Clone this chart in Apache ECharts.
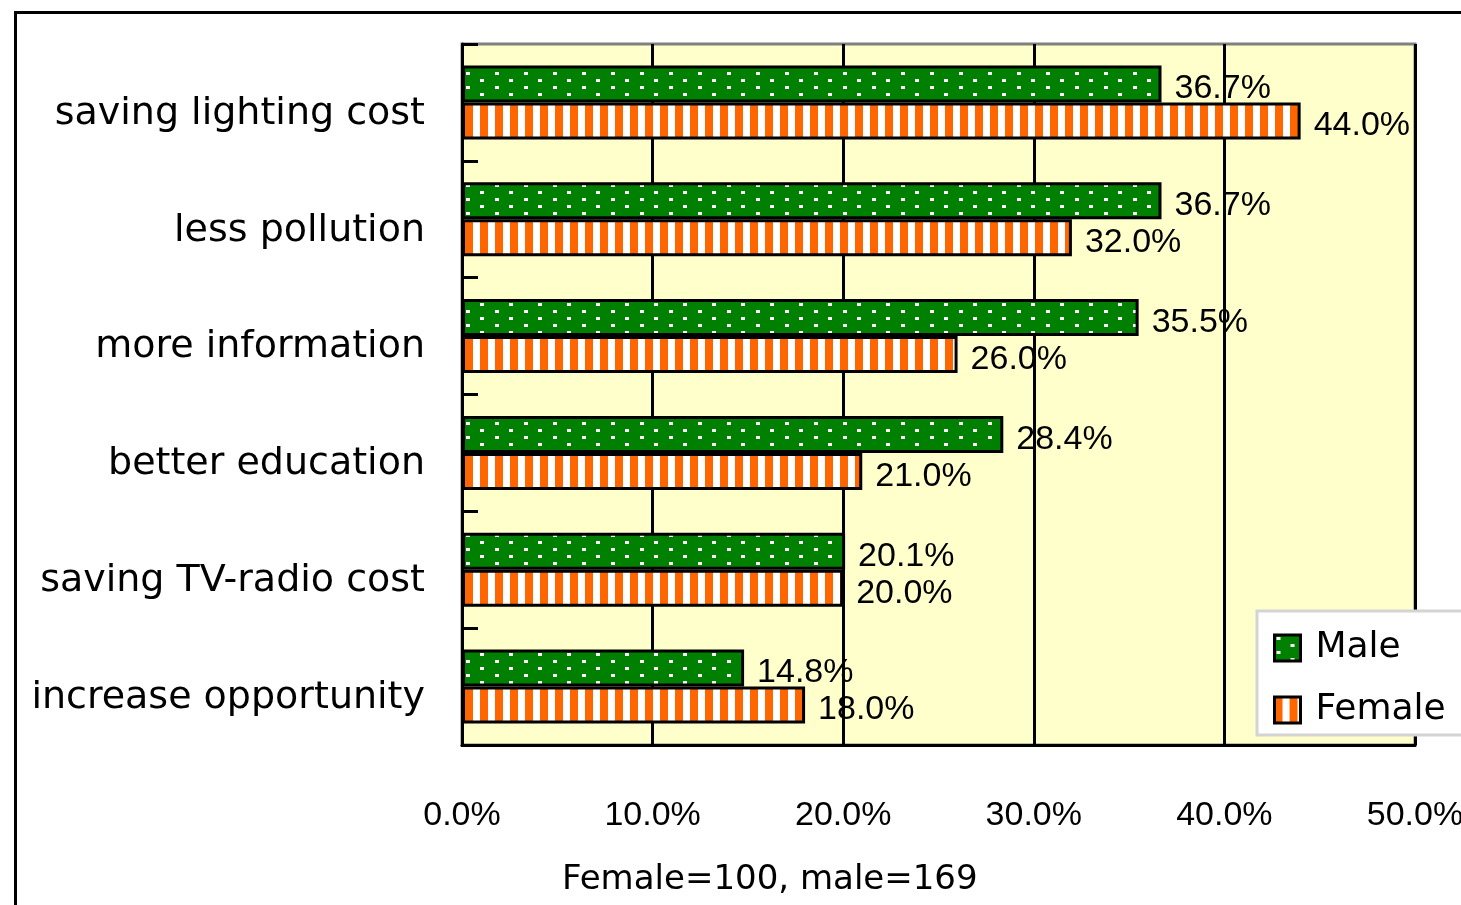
<!DOCTYPE html>
<html>
<head>
<meta charset="utf-8">
<script src="https://cdn.jsdelivr.net/npm/echarts@6/dist/echarts.min.js"></script>
<style>
html,body{margin:0;padding:0;background:#fff;}
#chart{width:1461px;height:905px;}
</style>
</head>
<body>
<div id="chart"></div>
<script>
var categories = ['saving lighting cost', 'less pollution', 'more information', 'better education', 'saving TV-radio cost', 'increase opportunity'];
var maleValues = [36.7, 36.7, 35.5, 28.4, 20.1, 14.8];
var femaleValues = [44.0, 32.0, 26.0, 21.0, 20.0, 18.0];
var seriesNames = ['Male', 'Female'];
var xTicks = [0, 10, 20, 30, 40, 50];
var axisNote = 'Female=100, male=169';

function dotPattern() {
  var c = document.createElement('canvas');
  c.width = 29; c.height = 14;
  var g = c.getContext('2d');
  g.fillStyle = '#008000'; g.fillRect(0, 0, 29, 14);
  g.fillStyle = '#ffffff';
  g.fillRect(2, 2, 4, 3);
  g.fillRect(16, 9, 4, 3);
  return c;
}
function stripePattern() {
  var c = document.createElement('canvas');
  c.width = 15; c.height = 10;
  var g = c.getContext('2d');
  g.fillStyle = '#ffffff'; g.fillRect(0, 0, 15, 10);
  g.fillStyle = '#ff6600'; g.fillRect(0, 0, 8, 10);
  return c;
}
var malePat = { image: dotPattern(), repeat: 'repeat' };
var femalePat = { image: stripePattern(), repeat: 'repeat' };

var chart = echarts.init(document.getElementById('chart'), null, { renderer: 'canvas' });
var numFont = 'Liberation Sans';
var txtFont = 'DejaVu Sans';

function pct(v) { return v.toFixed(1) + '%'; }

chart.setOption({
  animation: false,
  backgroundColor: '#ffffff',
  grid: {
    left: 462, right: 46, top: 44, bottom: 160,
    outerBoundsMode: 'none', containLabel: false,
    show: true, backgroundColor: '#ffffcc', borderColor: '#808080', borderWidth: 3
  },
  xAxis: {
    type: 'value', min: xTicks[0], max: xTicks[xTicks.length - 1], interval: 10,
    axisLine: { show: true, lineStyle: { color: '#000', width: 3 } },
    axisTick: { show: false },
    splitLine: { show: true, lineStyle: { color: '#000', width: 3 } },
    axisLabel: {
      margin: 54, fontFamily: numFont, fontSize: 34, color: '#000',
      formatter: function (v) { return pct(v); }
    }
  },
  yAxis: {
    type: 'category', data: categories, inverse: true,
    axisLine: { show: true, lineStyle: { color: '#000', width: 3 } },
    axisTick: { show: true, inside: true, length: 16, lineStyle: { color: '#000', width: 3 } },
    axisLabel: { margin: 37, fontFamily: txtFont, fontSize: 38, color: '#000', verticalAlign: 'top', lineHeight: 23 }
  },
  legend: {
    orient: 'vertical', left: 1257, top: 611,
    backgroundColor: '#ffffff', borderColor: '#d4d4d4', borderWidth: 3,
    padding: [17, 30, 5, 16], itemGap: 22, itemWidth: 26, itemHeight: 26,
    textStyle: { fontFamily: txtFont, fontSize: 36, color: '#000', lineHeight: 40, padding: [0, 0, 0, 10] },
    data: [
      { name: seriesNames[0], icon: 'rect', itemStyle: { color: malePat, borderColor: '#000', borderWidth: 3 } },
      { name: seriesNames[1], icon: 'rect', itemStyle: { color: femalePat, borderColor: '#000', borderWidth: 3 } }
    ]
  },
  series: [
    {
      name: seriesNames[0], type: 'bar', data: maleValues, barWidth: 37, barGap: '0%',
      itemStyle: { color: malePat, borderColor: '#000', borderWidth: 3 },
      label: { show: true, position: 'right', distance: 13, offset: [0, 5], fontFamily: numFont, fontSize: 34, color: '#000',
        formatter: function (p) { return pct(p.value); } }
    },
    {
      name: seriesNames[1], type: 'bar', data: femaleValues, barWidth: 37, barGap: '0%',
      itemStyle: { color: femalePat, borderColor: '#000', borderWidth: 3 },
      label: { show: true, position: 'right', distance: 13, offset: [0, 5], fontFamily: numFont, fontSize: 34, color: '#000',
        formatter: function (p) { return pct(p.value); } }
    }
  ],
  graphic: [
    { type: 'rect', left: 13, top: 10, z: 100, silent: true,
      shape: { x: 0, y: 0, width: 1600, height: 1000 },
      style: { fill: null, stroke: '#000', lineWidth: 3 } },
    { type: 'text', left: 562, top: 863, z: 100,
      style: { text: axisNote, font: '34px "DejaVu Sans"', fill: '#000' } }
  ]
});
</script>
</body>
</html>
